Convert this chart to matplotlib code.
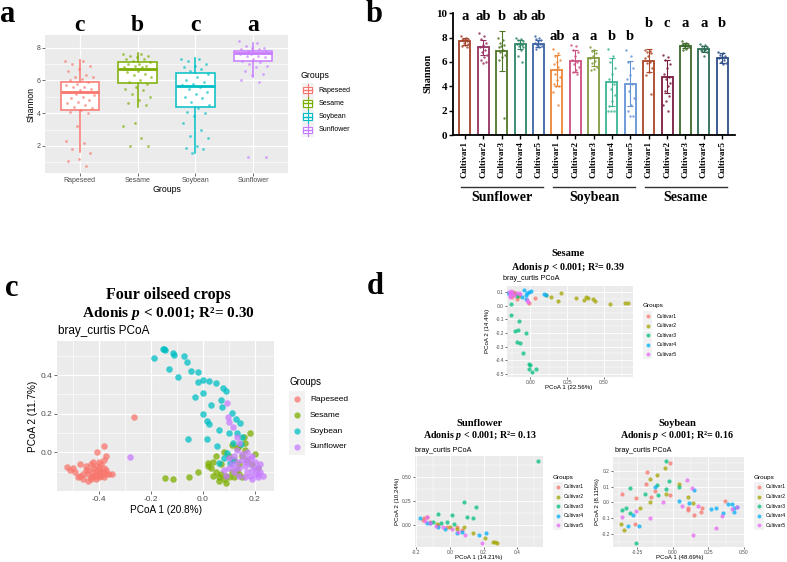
import matplotlib
matplotlib.use('Agg')
import matplotlib.pyplot as plt
import matplotlib.transforms as mtrans
from matplotlib.patches import Rectangle
from matplotlib.lines import Line2D
from matplotlib.ticker import FormatStrFormatter

# ------------------------------------------------------------------ data
# Panel a : Shannon by crop
crops = ['Rapeseed', 'Sesame', 'Soybean', 'Sunflower']
crop_letters = ['c', 'b', 'c', 'a']
box_q1 = [4.2, 5.83, 4.37, 7.19]
box_med = [5.28, 6.7, 5.67, 7.66]
box_q3 = [5.89, 7.15, 6.44, 7.8]
box_lo = [1.62, 4.37, 1.55, 6.2]
box_hi = [7.25, 7.66, 7.35, 8.3]
shannon_rapeseed = [7.2, 7.2, 7.0, 6.9, 6.7, 6.6, 6.3, 6.2, 6.2, 6.1, 6.0, 5.9, 5.8, 5.7, 5.6, 5.6,
                    5.5, 5.4, 5.3, 5.3, 5.2, 5.1, 5.0, 4.9, 4.8, 4.7, 4.6, 4.5, 4.4, 4.3, 4.2, 4.1,
                    4.0, 3.2, 2.3, 2.2, 1.8, 1.6, 1.2, 1.1, 0.8]
shannon_sesame = [7.6, 7.6, 7.5, 7.5, 7.4, 7.3, 7.3, 7.2, 7.1, 7.0, 7.0, 6.9, 6.9, 6.8, 6.8, 6.7,
                  6.7, 6.6, 6.5, 6.4, 6.3, 6.2, 6.0, 5.9, 5.8, 5.6, 5.5, 5.4, 5.2, 5.0, 4.8, 4.6,
                  4.5, 3.4, 3.2, 2.5, 2.0, 2.0]
shannon_soybean = [7.3, 7.3, 7.2, 7.0, 6.9, 6.8, 6.7, 6.6, 6.4, 6.2, 6.0, 5.9, 5.8, 5.7, 5.6, 5.5,
                   5.3, 5.2, 5.0, 4.9, 4.7, 4.5, 4.3, 4.1, 4.0, 3.8, 3.4, 3.0, 2.6, 2.5, 2.0, 1.9,
                   1.8, 1.6]
shannon_sunflower = [8.4, 8.3, 8.1, 8.0, 8.0, 7.9, 7.9, 7.8, 7.8, 7.7, 7.7, 7.7, 7.6, 7.6, 7.5, 7.5,
                     7.4, 7.3, 7.2, 7.1, 7.0, 6.9, 6.8, 6.6, 6.4, 6.3, 6.0, 5.9, 1.3, 1.3]

# Panel b : Shannon by cultivar
cultivars = ['Cultivar1', 'Cultivar2', 'Cultivar3', 'Cultivar4', 'Cultivar5']
b_groups = ['Sunflower', 'Soybean', 'Sesame']
sunflower_mean = [7.7, 7.2, 6.9, 7.45, 7.5]
sunflower_sd = [0.3, 0.6, 1.65, 0.35, 0.3]
sunflower_letters = ['a', 'ab', 'b', 'ab', 'ab']
soybean_mean = [5.3, 6.05, 6.3, 4.35, 4.2]
soybean_sd = [1.3, 0.9, 0.65, 1.95, 1.85]
soybean_letters = ['ab', 'a', 'a', 'b', 'b']
sesame_mean = [6.1, 4.8, 7.35, 7.05, 6.35]
sesame_sd = [0.95, 1.35, 0.2, 0.25, 0.4]
sesame_letters = ['b', 'c', 'a', 'a', 'b']
letter_level = [9.7, 8.1, 9.2]
sunflower_pts = [[8.1, 8.0, 7.9, 7.9, 7.8, 7.8, 7.7, 7.6, 7.5, 7.4, 7.3, 7.2],
                 [8.4, 8.1, 7.9, 7.6, 7.4, 7.2, 7.0, 6.8, 6.6, 6.4, 6.2, 6.0, 5.9],
                 [8.0, 7.8, 7.6, 7.4, 7.3, 7.2, 7.0, 6.8, 6.6, 6.4, 6.2, 1.4],
                 [8.0, 7.9, 7.8, 7.7, 7.6, 7.5, 7.4, 7.3, 7.2, 7.0, 6.5, 6.0],
                 [8.1, 8.0, 7.9, 7.8, 7.7, 7.6, 7.5, 7.4, 7.3, 7.2, 7.1]]
soybean_pts = [[7.1, 6.7, 6.5, 6.2, 6.0, 5.8, 5.6, 5.0, 4.8, 4.5, 4.2, 4.0, 4.0, 3.5, 2.5],
               [7.4, 7.3, 7.0, 6.8, 6.5, 6.2, 6.0, 5.8, 5.6, 5.3, 5.2, 5.0],
               [7.2, 7.0, 6.9, 6.7, 6.5, 6.3, 6.1, 5.9, 5.6, 5.4, 5.3],
               [7.1, 6.5, 6.0, 5.5, 5.0, 4.6, 4.2, 3.8, 3.3, 2.8, 2.4, 2.0, 2.0, 2.0],
               [7.0, 6.5, 6.0, 5.5, 4.9, 4.6, 4.2, 3.6, 3.0, 2.5, 2.0, 1.6, 1.6]]
sesame_pts = [[7.0, 6.9, 6.8, 6.7, 6.5, 6.3, 6.0, 5.9, 5.5, 5.2, 4.9, 3.4],
              [6.6, 6.4, 6.2, 5.8, 5.5, 5.0, 4.8, 4.6, 4.3, 4.0, 3.6, 3.2, 2.8, 2.5, 2.0],
              [7.7, 7.6, 7.5, 7.5, 7.4, 7.4, 7.3, 7.3, 7.2, 7.1, 7.0],
              [7.5, 7.4, 7.3, 7.2, 7.1, 7.0, 7.0, 6.9, 6.8, 6.5],
              [6.8, 6.7, 6.6, 6.5, 6.4, 6.3, 6.2, 6.0, 5.9, 5.8]]
sunflower_colors = ['#a3432b', '#953260', '#4f7526', '#2c8664', '#3c64a4']
soybean_colors = ['#ec8638', '#cc5182', '#819c40', '#3bb394', '#6594d6']
sesame_colors = ['#ab4528', '#7a1c40', '#3b6a29', '#2c6c54', '#2e4d88']

# Panel c : PCoA of four crops
c_rapeseed_x = [-0.50, -0.49, -0.47, -0.46, -0.45, -0.44, -0.43, -0.42, -0.42, -0.41, -0.41, -0.40,
                -0.40, -0.39, -0.39, -0.38, -0.38, -0.37, -0.37, -0.36, -0.47, -0.45, -0.44, -0.43,
                -0.42, -0.41, -0.40, -0.40, -0.39, -0.38, -0.48, -0.46, -0.44, -0.43, -0.42, -0.41,
                -0.40, -0.38, -0.405, -0.37, -0.38, -0.265, -0.52, -0.51, -0.35]
c_rapeseed_y = [-0.08, -0.10, -0.12, -0.14, -0.09, -0.11, -0.13, -0.08, -0.12, -0.10, -0.14, -0.09,
                -0.11, -0.12, -0.10, -0.13, -0.08, -0.11, -0.09, -0.11, -0.06, -0.07, -0.15, -0.06,
                -0.10, -0.07, -0.13, -0.05, -0.06, -0.10, -0.13, -0.11, -0.09, -0.14, -0.05, -0.12,
                -0.08, -0.04, 0.00, -0.02, 0.035, 0.183, -0.075, -0.09, -0.11]
c_sesame_x = [-0.146, -0.114, -0.053, -0.018, 0.021, 0.03, 0.04, 0.05, 0.06, 0.07, 0.08, 0.09, 0.10,
              0.11, 0.12, 0.13, 0.14, 0.04, 0.05, 0.07, 0.08, 0.10, 0.12, 0.14, 0.15, 0.16, 0.14,
              0.162, 0.158, 0.18, 0.17, 0.19, 0.20, 0.21, 0.13, 0.11, 0.09, 0.06, 0.02, 0.15]
c_sesame_y = [-0.135, -0.138, -0.13, -0.10, -0.057, -0.08, -0.12, -0.10, -0.13, -0.11, -0.14, -0.12,
              -0.13, -0.10, -0.13, -0.09, -0.11, -0.05, -0.02, -0.06, 0.0, -0.02, -0.04, -0.06,
              -0.02, 0.01, 0.033, 0.047, 0.081, 0.098, -0.04, -0.06, -0.01, -0.08, 0.02, 0.04,
              -0.16, -0.15, -0.07, -0.13]
c_soybean_x = [-0.188, -0.15, -0.145, -0.155, -0.114, -0.131, -0.094, -0.072, -0.06, -0.044, -0.02,
               0.001, -0.018, 0.024, 0.05, 0.076, 0.09, -0.03, 0.001, 0.033, 0.07, 0.072, 0.001,
               0.017, 0.022, 0.113, 0.127, 0.142, -0.056, 0.014, 0.063, 0.099, 0.13, 0.149, 0.117,
               0.145, 0.062, 0.081, 0.104, 0.117, 0.091, 0.053, -0.11]
c_soybean_y = [0.487, 0.537, 0.53, 0.535, 0.513, 0.43, 0.392, 0.499, 0.465, 0.423, 0.415, 0.375,
               0.364, 0.371, 0.36, 0.332, 0.318, 0.288, 0.306, 0.245, 0.27, 0.237, 0.197, 0.162,
               0.147, 0.206, 0.174, 0.15, 0.069, 0.069, 0.116, 0.102, 0.102, 0.078, 0.05, 0.043,
               -0.054, -0.031, -0.057, -0.04, -0.005, 0.035, 0.505]
c_sunflower_x = [-0.278, 0.091, 0.097, 0.101, 0.117, 0.132, 0.14, 0.10, 0.11, 0.12, 0.13, 0.14, 0.15,
                 0.16, 0.17, 0.17, 0.18, 0.18, 0.19, 0.19, 0.20, 0.20, 0.21, 0.21, 0.22, 0.22, 0.23,
                 0.16, 0.15, 0.13, 0.17, 0.19, 0.08, 0.09, 0.12, 0.14, 0.165, 0.185, 0.20, 0.21,
                 0.10, 0.125]
c_sunflower_y = [-0.022, 0.254, 0.181, 0.159, 0.133, 0.081, 0.047, -0.03, -0.06, -0.02, -0.05, -0.08,
                 -0.04, -0.07, -0.03, -0.10, -0.06, -0.12, -0.09, -0.02, -0.11, -0.05, -0.13, -0.08,
                 -0.10, -0.06, -0.12, -0.13, -0.01, 0.01, 0.0, -0.14, -0.09, -0.12, -0.10, -0.12,
                 -0.05, -0.03, -0.08, -0.11, -0.08, -0.08]

# Panel d : PCoA per crop, by cultivar
sesame_d_x = [[-0.123, -0.091, 0.03, -0.009, -0.118, -0.105],
              [0.143, 0.211, 0.189, 0.314, 0.364, 0.382, 0.393, 0.427, 0.439, 0.545, 0.643, 0.666,
               0.105, -0.107, -0.08],
              [-0.13, -0.136, -0.08, -0.107, -0.084, -0.032, -0.089, -0.073, -0.05, -0.009, -0.005,
               -0.009, 0.011, 0.041, -0.095],
              [-0.045, -0.023, -0.009, 0.007, -0.027, -0.061, 0.091, 0.109, -0.032, -0.152],
              [-0.145, -0.134, -0.141, -0.123, -0.114, -0.1, -0.13, -0.077, -0.023, -0.016, -0.07,
               -0.14]]
sesame_d_y = [[0.066, 0.046, 0.054, 0.022, 0.102, 0.085],
              [0.066, 0.09, 0.037, 0.059, 0.041, 0.066, 0.059, 0.046, 0.037, 0.01, 0.017, 0.022,
               0.08, 0.09, 0.07],
              [0.01, -0.068, -0.11, -0.185, -0.178, -0.202, -0.263, -0.276, -0.349, -0.427, -0.434,
               -0.466, -0.483, -0.466, 0.071],
              [0.115, 0.09, 0.102, 0.107, 0.078, 0.066, 0.083, 0.078, 0.046, 0.09],
              [0.102, 0.09, 0.078, 0.095, 0.078, 0.093, 0.11, 0.09, 0.041, 0.029, 0.085, 0.065]]
sunflower_d_x = [[-0.153, -0.137, -0.117, -0.019, 0.041, 0.07, -0.068, -0.16],
                 [0.084, 0.139, 0.208, 0.254, 0.267, 0.277, 0.04, 0.001, -0.078],
                 [0.524, 0.084, 0.155, 0.1, 0.139, 0.011, -0.072, -0.019, 0.025, -0.054, -0.101],
                 [-0.176, 0.175, 0.214, -0.137, -0.117, -0.068, -0.028, 0.041, 0.07],
                 [-0.133, -0.147, -0.082, -0.038, 0.011, 0.05, 0.09, 0.189, -0.12]]
sunflower_d_y = [[0.069, 0.08, 0.035, -0.017, -0.017, -0.052, 0.0, 0.05],
                 [-0.017, -0.08, -0.139, -0.174, -0.18, -0.184, -0.042, -0.017, 0.01],
                 [0.67, 0.236, 0.184, 0.087, 0.069, 0.104, 0.115, 0.035, 0.01, 0.024, 0.035],
                 [0.069, -0.104, -0.087, 0.024, 0.017, -0.017, -0.042, -0.08, -0.069],
                 [0.087, 0.045, -0.01, -0.024, -0.045, -0.069, -0.104, -0.19, 0.02]]
soybean_d_x = [[-0.359, -0.181, -0.19, -0.15, -0.123, -0.023, -0.023, 0.104, 0.104, 0.15, 0.204,
                0.197, 0.37, -0.259, -0.266],
               [-0.157, -0.111, -0.053, -0.046, -0.157, -0.227, -0.366, -0.343, 0.042, 0.104, 0.139],
               [-0.046, -0.301, -0.359, -0.329, -0.301, -0.259, -0.197, -0.102, -0.051, -0.028,
                0.046, -0.111],
               [-0.278, -0.313, -0.236, -0.127, 0.042, 0.111, 0.15, 0.266, 0.301, 0.352, 0.387,
                0.417, 0.428, 0.433, 0.454],
               [-0.359, -0.259, -0.157, -0.069, 0.1, 0.134, 0.063, 0.178, 0.139, 0.301, 0.343,
                0.417, 0.451]]
soybean_d_y = [[0.053, 0.192, 0.116, 0.036, 0.074, 0.046, 0.247, -0.038, -0.049, -0.08, -0.034,
                -0.059, 0.011, 0.025, -0.137],
               [0.146, 0.173, 0.215, 0.053, 0.0, -0.038, -0.137, -0.175, 0.114, 0.032, -0.006],
               [0.264, 0.093, -0.049, -0.034, -0.07, -0.255, 0.053, 0.046, 0.082, 0.137, 0.099,
                0.11],
               [-0.08, -0.148, -0.15, 0.095, 0.011, -0.002, 0.078, -0.042, -0.038, -0.07, -0.013,
                -0.011, -0.038, -0.059, -0.027],
               [-0.095, -0.055, -0.097, 0.004, 0.141, 0.093, -0.021, -0.023, -0.203, -0.16, -0.086,
                -0.042, -0.032]]

# ------------------------------------------------------------------ style
W, H = 787, 562
plt.rcParams['font.family'] = ['Liberation Sans', 'DejaVu Sans']
plt.rcParams['axes.unicode_minus'] = False
plt.rcParams['mathtext.fontset'] = 'custom'
plt.rcParams['mathtext.it'] = 'Liberation Serif:italic:bold'
plt.rcParams['mathtext.rm'] = 'Liberation Serif:bold'
plt.rcParams['mathtext.bf'] = 'Liberation Serif:bold'
SERIF = ['Liberation Serif', 'DejaVu Serif']
GG4 = ['#F8766D', '#7CAE00', '#00BFC4', '#C77CFF']
GG5 = ['#F8766D', '#A3A500', '#00BF7D', '#00B0F6', '#E76BF3']
PANEL_BG = '#EBEBEB'
KEY_BG = '#F2F2F2'

fig = plt.figure(figsize=(W / 100, H / 100), dpi=100)


def px_axes(l, t, r, b):
    return fig.add_axes([l / W, 1 - b / H, (r - l) / W, (b - t) / H])


def gg_style(ax, xmaj, ymaj, xmin, ymin, fs, lw=0.8, tl=2.0):
    ax.set_facecolor(PANEL_BG)
    for s in ax.spines.values():
        s.set_visible(False)
    ax.set_xticks(xmaj)
    ax.set_yticks(ymaj)
    ax.set_xticks(xmin, minor=True)
    ax.set_yticks(ymin, minor=True)
    ax.grid(True, which='major', color='white', lw=lw)
    ax.grid(True, which='minor', color='white', lw=lw * 0.5)
    ax.set_axisbelow(True)
    ax.tick_params(which='major', length=tl, width=0.5, color='#333333', labelsize=fs,
                   labelcolor='#4D4D4D', pad=1)
    ax.tick_params(which='minor', length=0)


def jit(i, n, spread):
    return ((i * 0.6180339) % 1.0 - 0.5) * spread


# ------------------------------------------------------------------ panel a
axa = px_axes(45, 35, 288, 173)
gg_style(axa, [0, 1, 2, 3], [2, 4, 6, 8], [], [1, 3, 5, 7], 5, lw=0.9)
axa.set_xlim(-0.6, 3.6)
axa.set_ylim(0.35, 8.77)
axa.set_xticklabels(crops)
stats = []
for i in range(4):
    stats.append(dict(med=box_med[i], q1=box_q1[i], q3=box_q3[i], whislo=box_lo[i],
                      whishi=box_hi[i], fliers=[]))
bp = axa.bxp(stats, positions=range(4), widths=0.66, showfliers=False, showcaps=False,
             patch_artist=True, manage_ticks=False)
for i, c in enumerate(GG4):
    bp['boxes'][i].set(facecolor='white', edgecolor=c, lw=1.1)
    bp['medians'][i].set(color=c, lw=2.0)
    bp['whiskers'][2 * i].set(color=c, lw=1.1)
    bp['whiskers'][2 * i + 1].set(color=c, lw=1.1)
for i, vals in enumerate([shannon_rapeseed, shannon_sesame, shannon_soybean, shannon_sunflower]):
    xs = [i + jit(j, len(vals), 0.5) for j in range(len(vals))]
    axa.scatter(xs, vals, s=4, color=GG4[i], alpha=0.65, lw=0, zorder=5)
ta = mtrans.blended_transform_factory(axa.transData, axa.transAxes)
for i, L in enumerate(crop_letters):
    axa.text(i, 1.07, L, transform=ta, ha='center', va='center', fontsize=17,
             fontweight='bold', family=SERIF)

# ------------------------------------------------------------------ panel b
axb = px_axes(453, 13.3, 735, 135)
b_means = [sunflower_mean, soybean_mean, sesame_mean]
b_sds = [sunflower_sd, soybean_sd, sesame_sd]
b_letters = [sunflower_letters, soybean_letters, sesame_letters]
b_pts = [sunflower_pts, soybean_pts, sesame_pts]
b_cols = [sunflower_colors, soybean_colors, sesame_colors]
xpos = []
for g in range(3):
    for k in range(5):
        x = g * 5 + k
        xpos.append(x)
        c = b_cols[g][k]
        axb.bar(x, b_means[g][k], width=0.6, color='white', edgecolor=c, lw=1.3, zorder=2)
        pts = b_pts[g][k]
        xs = [x + jit(j, len(pts), 0.42) for j in range(len(pts))]
        axb.scatter(xs, pts, s=3, color=c, lw=0, alpha=0.85, zorder=3)
        axb.errorbar(x, b_means[g][k], yerr=b_sds[g][k], fmt='none', ecolor=c, elinewidth=0.8,
                     capsize=2.5, capthick=0.8, zorder=4)
        axb.text(x, letter_level[g], b_letters[g][k], ha='center', va='center', fontsize=10.5,
                 fontweight='bold', family=SERIF)
axb.set_xlim(-0.65, 14.7)
axb.set_ylim(0, 10)
axb.set_yticks([0, 2, 4, 6, 8, 10])
axb.set_xticks(xpos)
axb.set_xticklabels(cultivars * 3, rotation=90, family=SERIF, fontweight='bold', fontsize=6.5)
for lab in axb.get_yticklabels():
    lab.set_family(SERIF)
    lab.set_fontweight('bold')
axb.tick_params(axis='y', labelsize=8, length=3, width=1.0, pad=1)
axb.tick_params(axis='x', length=3, width=1.0, pad=1.5)
for s in ['top', 'right']:
    axb.spines[s].set_visible(False)
for s in ['left', 'bottom']:
    axb.spines[s].set_linewidth(1.3)
tb = mtrans.blended_transform_factory(axb.transData, axb.transAxes)
for g, name in enumerate(b_groups):
    x0, x1 = g * 5 - 0.2, g * 5 + 4 + 0.25
    axb.plot([x0, x1], [-0.427, -0.427], transform=tb, color='#333333', lw=1.0, clip_on=False)
    axb.text((x0 + x1) / 2, -0.515, name, transform=tb, ha='center', va='center', fontsize=10,
             fontweight='bold', family=SERIF)

# ------------------------------------------------------------------ panel c
axc = px_axes(57, 341, 274, 491)
gg_style(axc, [-0.4, -0.2, 0.0, 0.2], [0.0, 0.2, 0.4], [-0.5, -0.3, -0.1, 0.1],
         [-0.1, 0.1, 0.3, 0.5], 6, lw=0.9, tl=2.5)
axc.set_xlim(-0.56, 0.273)
axc.set_ylim(-0.2, 0.576)
axc.xaxis.set_major_formatter(FormatStrFormatter('%.1f'))
axc.yaxis.set_major_formatter(FormatStrFormatter('%.1f'))
for xs, ys, c in zip([c_rapeseed_x, c_sesame_x, c_soybean_x, c_sunflower_x],
                     [c_rapeseed_y, c_sesame_y, c_soybean_y, c_sunflower_y], GG4):
    axc.scatter(xs, ys, s=22, color=c, alpha=0.75, lw=0)


# ------------------------------------------------------------------ panel d
def d_panel(box, xs_l, ys_l, xlim, ylim, xmaj, ymaj, xmin, ymin, xfmt, yfmt):
    ax = px_axes(*box)
    gg_style(ax, xmaj, ymaj, xmin, ymin, 3.5, lw=0.6, tl=1.5)
    ax.set_xlim(*xlim)
    ax.set_ylim(*ylim)
    ax.xaxis.set_major_formatter(FormatStrFormatter(xfmt))
    ax.yaxis.set_major_formatter(FormatStrFormatter(yfmt))
    ax.tick_params(pad=0.8)
    for xs, ys, c in zip(xs_l, ys_l, GG5):
        ax.scatter(xs, ys, s=9, color=c, alpha=0.75, lw=0)
    return ax


d_panel((507, 286, 633, 377), sesame_d_x, sesame_d_y, (-0.16, 0.70), (-0.522, 0.144),
        [0.0, 0.25, 0.5], [-0.5, -0.4, -0.3, -0.2, -0.1, 0.0, 0.1],
        [-0.125, 0.125, 0.375, 0.625], [-0.45, -0.35, -0.25, -0.15, -0.05, 0.05], '%.2f', '%.1f')
d_panel((415, 456, 543, 547), sunflower_d_x, sunflower_d_y, (-0.206, 0.552), (-0.23, 0.72),
        [-0.2, 0.0, 0.2, 0.4], [0.0, 0.25, 0.5], [-0.1, 0.1, 0.3, 0.5],
        [-0.125, 0.125, 0.375, 0.625], '%.1f', '%.2f')
d_panel((613, 457, 744, 547), soybean_d_x, soybean_d_y, (-0.42, 0.50), (-0.282, 0.287),
        [-0.25, 0.0, 0.25, 0.5], [-0.2, -0.1, 0.0, 0.1, 0.2], [-0.375, -0.125, 0.125, 0.375],
        [-0.25, -0.15, -0.05, 0.05, 0.15, 0.25], '%.2f', '%.1f')

# ------------------------------------------------------------------ overlay (pixel coords)
ov = fig.add_axes([0, 0, 1, 1])
ov.set_xlim(0, W)
ov.set_ylim(H, 0)
ov.axis('off')


def T(x, y, s, ha='center', va='center', **kw):
    ov.text(x, y, s, ha=ha, va=va, **kw)


def BT(x, y, s, fs):
    T(x, y, s, fontsize=fs, fontweight='bold', family=SERIF)


# panel letters
BT(8, 15, 'a', 22)
BT(374, 15, 'b', 22)
BT(12, 288, 'c', 22)
BT(375, 286, 'd', 22)

# panel a labels + legend
T(166.5, 189, 'Groups', fontsize=6.3)
T(31, 104, 'Shannon', fontsize=6.3, rotation=90)
T(300.5, 75, 'Groups', ha='left', fontsize=6.3)
for i, (name, c) in enumerate(zip(crops, GG4)):
    yc = 90 + i * 13.3
    ov.add_patch(Rectangle((301.5, yc - 6.6), 12, 13.2, facecolor=KEY_BG, edgecolor='none'))
    ov.add_line(Line2D([307.5, 307.5], [yc - 6.3, yc + 6.3], color=c, lw=0.8))
    ov.add_patch(Rectangle((303, yc - 3.3), 9, 6.6, facecolor='white', edgecolor=c, lw=0.8))
    ov.add_line(Line2D([303, 312], [yc, yc], color=c, lw=1.0))
    T(318.5, yc, name, ha='left', fontsize=5)

# panel b y label
T(428, 73, 'Shannon', fontsize=7.5, fontweight='bold', family=SERIF, rotation=90)

# panel c titles, labels, legend
BT(168, 295, 'Four oilseed crops', 11.5)
BT(168, 313, 'Adonis $p$ < 0.001; R²= 0.30', 11)
T(58, 331, 'bray_curtis PCoA', ha='left', fontsize=8.5)
T(165.5, 510, 'PCoA 1 (20.8%)', fontsize=7.2)
T(33, 416, 'PCoA 2 (11.7%)', fontsize=7.2, rotation=90)
T(289, 382, 'Groups', ha='left', fontsize=7)
for i, (name, c) in enumerate(zip(crops, GG4)):
    yc = 399.3 + i * 15.9
    ov.add_patch(Rectangle((289, yc - 7.9), 15.5, 15.8, facecolor=KEY_BG, edgecolor='none'))
    ov.scatter([296.7], [yc], s=20, color=c, alpha=0.75, lw=0)
    T(310, yc, name, ha='left', fontsize=6)


# panel d titles, labels, legends
def d_text(cx, ty, crop, r2, bx, by, xl, xly, yl, ylx, yly, lx, ly, dotx, tx):
    BT(cx, ty, crop, 7.6)
    BT(cx, ty + 13, 'Adonis $p$ < 0.001; R²= ' + r2, 7.2)
    T(bx, by, 'bray_curtis PCoA', ha='left', fontsize=5.2)
    T(xl[0], xly, xl[1], fontsize=4.4)
    T(ylx, yly, yl, fontsize=4.4, rotation=90)
    T(lx, ly, 'Groups', ha='left', fontsize=4.6)
    for i, (name, c) in enumerate(zip(cultivars, GG5)):
        yc = ly + 10 + i * 9.6
        ov.add_patch(Rectangle((dotx - 4.7, yc - 4.7), 9.4, 9.4, facecolor=KEY_BG,
                               edgecolor='none'))
        ov.scatter([dotx], [yc], s=8, color=c, alpha=0.75, lw=0)
        T(tx, yc, name, ha='left', fontsize=3.6)


d_text(568, 254, 'Sesame', '0.39', 503, 279, (569, 'PCoA 1 (22.56%)'), 387, 'PCoA 2 (14.4%)',
       487, 331, 643, 306, 647.5, 656.5)
d_text(480, 423, 'Sunflower', '0.13', 415, 450, (479, 'PCoA 1 (14.21%)'), 557.5,
       'PCoA 2 (10.24%)', 397, 501, 553, 477, 558, 563.5)
d_text(677, 423, 'Soybean', '0.16', 615, 451, (680, 'PCoA 1 (48.69%)'), 557, 'PCoA 2 (8.115%)',
       598, 502, 754, 477, 759, 766)

fig.savefig('out.png', dpi=100)
